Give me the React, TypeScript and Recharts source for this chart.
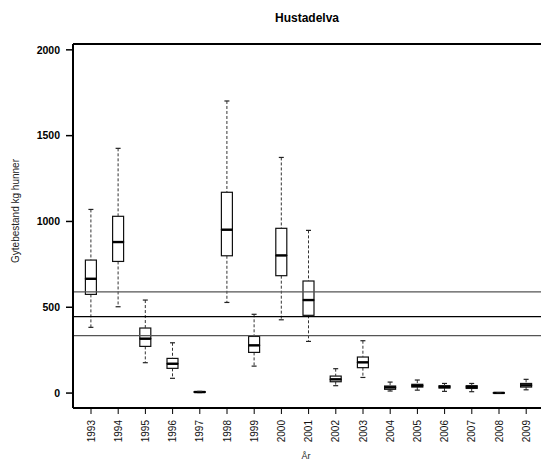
import React from 'react';
import {
  ComposedChart,
  Bar,
  XAxis,
  YAxis,
  ReferenceLine,
} from 'recharts';

const years = [
  '1993', '1994', '1995', '1996', '1997', '1998', '1999', '2000', '2001',
  '2002', '2003', '2004', '2005', '2006', '2007', '2008', '2009',
];
const mins = [383, 503, 177, 86, 3, 528, 157, 427, 301, 43, 91, 12, 17, 10, 8, 0, 19];
const q1s = [575, 767, 272, 144, 5, 800, 237, 684, 453, 66, 148, 22, 35, 29, 27, 0.5, 35];
const medians = [666, 880, 317, 171, 6, 952, 278, 802, 542, 80, 179, 33, 43, 36, 36, 1, 45];
const q3s = [775, 1030, 379, 202, 8, 1170, 330, 960, 653, 99, 210, 41, 51, 43, 43, 1.5, 56];
const maxs = [1070, 1426, 542, 293, 10, 1702, 459, 1373, 948, 142, 305, 64, 76, 56, 56, 2, 80];

const refLines = [590, 445, 335];
const yTicks = [0, 500, 1000, 1500, 2000];
const yDomain = [-87, 2034];

// stacked segments: invisible base, lower whisker, lower box half, upper box half, upper whisker
const data = years.map((year, i) => ({
  year,
  base: mins[i],
  lowWhisker: q1s[i] - mins[i],
  lowBox: medians[i] - q1s[i],
  highBox: q3s[i] - medians[i],
  highWhisker: maxs[i] - q3s[i],
}));

const FONT = '"Liberation Sans", Arial, sans-serif';
const CAP = 5;

const Empty = () => <g />;

const LowWhisker = (props: any) => {
  const { x, y, width, height } = props;
  const cx = x + width / 2;
  return (
    <g>
      <line x1={cx} x2={cx} y1={y} y2={y + height} stroke="#333" strokeWidth={1} strokeDasharray="3 2" />
      <line x1={cx - CAP / 2} x2={cx + CAP / 2} y1={y + height} y2={y + height} stroke="#222" strokeWidth={1.2} />
    </g>
  );
};

const HighWhisker = (props: any) => {
  const { x, y, width, height } = props;
  const cx = x + width / 2;
  return (
    <g>
      <line x1={cx} x2={cx} y1={y} y2={y + height} stroke="#333" strokeWidth={1} strokeDasharray="3 2" />
      <line x1={cx - CAP / 2} x2={cx + CAP / 2} y1={y} y2={y} stroke="#222" strokeWidth={1.2} />
    </g>
  );
};

const LowBox = (props: any) => {
  const { x, y, width, height } = props;
  return <rect x={x} y={y} width={width} height={Math.max(height, 0)} fill="#fff" stroke="#111" strokeWidth={1.2} />;
};

const HighBox = (props: any) => {
  const { x, y, width, height } = props;
  return (
    <g>
      <rect x={x} y={y} width={width} height={Math.max(height, 0)} fill="#fff" stroke="#111" strokeWidth={1.2} />
      <line x1={x} x2={x + width} y1={y + height} y2={y + height} stroke="#000" strokeWidth={2.4} />
    </g>
  );
};

const YearTick = (props: any) => {
  const { x, y, payload } = props;
  return (
    <text
      x={x}
      y={y}
      transform={`rotate(-90 ${x} ${y})`}
      textAnchor="end"
      dy="0.35em"
      fontSize={10}
      fontFamily={FONT}
      fill="#111"
    >
      {payload.value}
    </text>
  );
};

export default function App() {
  return (
    <div style={{ position: 'absolute', left: 0, top: 0, width: 541, height: 460, background: '#fff' }}>
      <ComposedChart
        width={541}
        height={460}
        data={data}
        margin={{ top: 44, right: 0, left: 0, bottom: 0 }}
        barCategoryGap={0}
      >
        <XAxis
          dataKey="year"
          height={52}
          interval={0}
          padding={{ left: 4.4, right: 1.2 }}
          axisLine={{ stroke: '#000', strokeWidth: 2 }}
          tickLine={{ stroke: '#000', strokeWidth: 1 }}
          tickSize={6}
          tickMargin={6}
          tick={<YearTick />}
        />
        <YAxis
          width={73}
          type="number"
          domain={yDomain}
          allowDataOverflow
          ticks={yTicks}
          axisLine={{ stroke: '#000', strokeWidth: 2 }}
          tickLine={{ stroke: '#000', strokeWidth: 1.5 }}
          tickSize={7}
          tickMargin={6}
          tick={{ fontSize: 10.5, fontWeight: 'bold', fontFamily: FONT, fill: '#000' }}
        />
        <ReferenceLine y={yDomain[1]} stroke="#000" strokeWidth={2} />
        {refLines.map((v, i) => (
          <ReferenceLine key={v} y={v} stroke={i === 1 ? '#000' : '#555'} strokeWidth={1.3} />
        ))}
        <Bar dataKey="base" stackId="box" barSize={11} shape={<Empty />} isAnimationActive={false} />
        <Bar dataKey="lowWhisker" stackId="box" barSize={11} shape={<LowWhisker />} isAnimationActive={false} />
        <Bar dataKey="lowBox" stackId="box" barSize={11} shape={<LowBox />} isAnimationActive={false} />
        <Bar dataKey="highBox" stackId="box" barSize={11} shape={<HighBox />} isAnimationActive={false} />
        <Bar dataKey="highWhisker" stackId="box" barSize={11} shape={<HighWhisker />} isAnimationActive={false} />
      </ComposedChart>
      <svg
        width={541}
        height={460}
        style={{ position: 'absolute', left: 0, top: 0, pointerEvents: 'none' }}
      >
        <text x={307} y={22} textAnchor="middle" fontSize={12} fontWeight="bold" fontFamily={FONT} fill="#000">
          Hustadelva
        </text>
        <text
          x={19}
          y={211}
          transform="rotate(-90 19 211)"
          textAnchor="middle"
          fontSize={10}
          fontFamily={FONT}
          fill="#222"
        >
          Gytebestand kg hunner
        </text>
        <text x={306} y={459} textAnchor="middle" fontSize={9} fontFamily={FONT} fill="#222">
          År
        </text>
      </svg>
    </div>
  );
}
